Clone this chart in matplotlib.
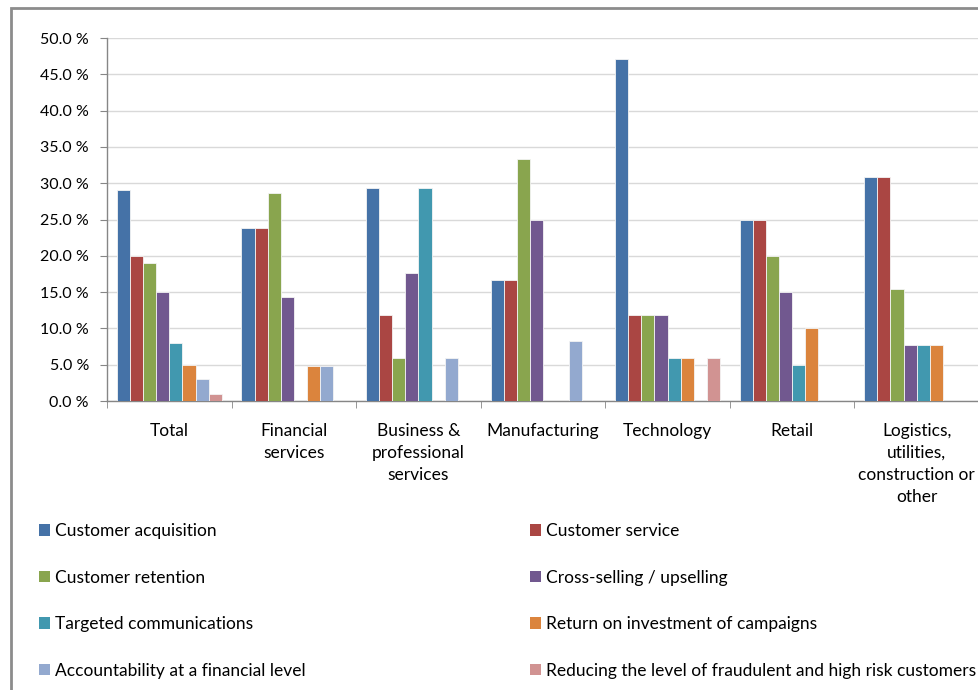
import numpy as np
import matplotlib
matplotlib.use("Agg")
import matplotlib.pyplot as plt
from matplotlib.patches import Patch, Rectangle
from matplotlib.ticker import FuncFormatter, MultipleLocator, FixedLocator

plt.rcParams['font.family'] = ['Lato', 'DejaVu Sans']

sectors = ['Total', 'Financial\nservices', 'Business &\nprofessional\nservices',
           'Manufacturing', 'Technology', 'Retail',
           'Logistics,\nutilities,\nconstruction or\nother']

purposes = ['Customer acquisition', 'Customer service', 'Customer retention',
            'Cross-selling / upselling', 'Targeted communications',
            'Return on investment of campaigns',
            'Accountability at a financial level',
            'Reducing the level of fraudulent and high risk customers']

# share of respondents per sector (%), one list per purpose
acquisition = [29.0, 23.8, 29.4, 16.7, 47.1, 25.0, 30.8]
service = [20.0, 23.8, 11.8, 16.7, 11.8, 25.0, 30.8]
retention = [19.0, 28.6, 5.9, 33.3, 11.8, 20.0, 15.4]
cross_selling = [15.0, 14.3, 17.6, 25.0, 11.8, 15.0, 7.7]
targeted = [8.0, 0.0, 29.4, 0.0, 5.9, 5.0, 7.7]
roi = [5.0, 4.8, 0.0, 0.0, 5.9, 10.0, 7.7]
accountability = [3.0, 4.8, 5.9, 8.3, 0.0, 0.0, 0.0]
fraud = [1.0, 0.0, 0.0, 0.0, 5.9, 0.0, 0.0]

series = [acquisition, service, retention, cross_selling, targeted, roi,
          accountability, fraud]
colors = ['#4572A7', '#AA4643', '#89A54E', '#71588F', '#4198AF', '#DB843D',
          '#93A9CF', '#D19392']

fig = plt.figure(figsize=(9.79, 6.90), dpi=100)
ax = fig.add_axes([107 / 979, 1 - 401 / 690, 1 - 107 / 979, (401 - 38) / 690])

x = np.arange(len(sectors))
w = 1 / 9.5  # 150% gap width
for j, (vals, c) in enumerate(zip(series, colors)):
    ax.bar(x + (j - 3.5) * w, vals, width=w, color=c, edgecolor='#f4f4f4',
           linewidth=0.6, zorder=3)

ax.set_xlim(-0.5, len(sectors) - 0.5)
ax.set_ylim(0, 50)
ax.yaxis.set_major_locator(MultipleLocator(5))
ax.yaxis.set_major_formatter(FuncFormatter(lambda v, _: f'{v:.1f} %'))
ax.grid(axis='y', color='#d9d9d9', linewidth=1, zorder=0)

ax.set_xticks(x)
ax.set_xticklabels(sectors, fontsize=12.5, linespacing=1.45, va='top')
ax.xaxis.set_minor_locator(FixedLocator(np.arange(-0.5, len(sectors), 1.0)))
ax.tick_params(axis='x', which='major', length=0, pad=16)
ax.tick_params(axis='x', which='minor', length=5, color='#868686')
ax.tick_params(axis='y', length=5, color='#868686', labelsize=11.5, pad=8)

for s in ['top', 'right']:
    ax.spines[s].set_visible(False)
for s in ['left', 'bottom']:
    ax.spines[s].set_color('#868686')
    ax.spines[s].set_linewidth(1)

# legend in two columns
handles = [Patch(facecolor=c, edgecolor='none') for c in colors]
leg_kw = dict(loc='upper left', frameon=False, fontsize=12.5, handlelength=0.64,
              handleheight=0.64, handletextpad=0.3, labelspacing=1.76,
              borderaxespad=0, borderpad=0)
leg1 = fig.legend(handles[0::2], purposes[0::2],
                  bbox_to_anchor=(39 / 979, 1 - 523 / 690), **leg_kw)
leg2 = fig.legend(handles[1::2], purposes[1::2],
                  bbox_to_anchor=(530 / 979, 1 - 523 / 690), **leg_kw)

# outer chart frame
fig.patches.append(Rectangle((10.5 / 979, -0.1), 1.2, 1.1 - 8.5 / 690,
                             transform=fig.transFigure, fill=False,
                             edgecolor='#8c8c8c', linewidth=2))

fig.savefig('out.png', dpi=100)
